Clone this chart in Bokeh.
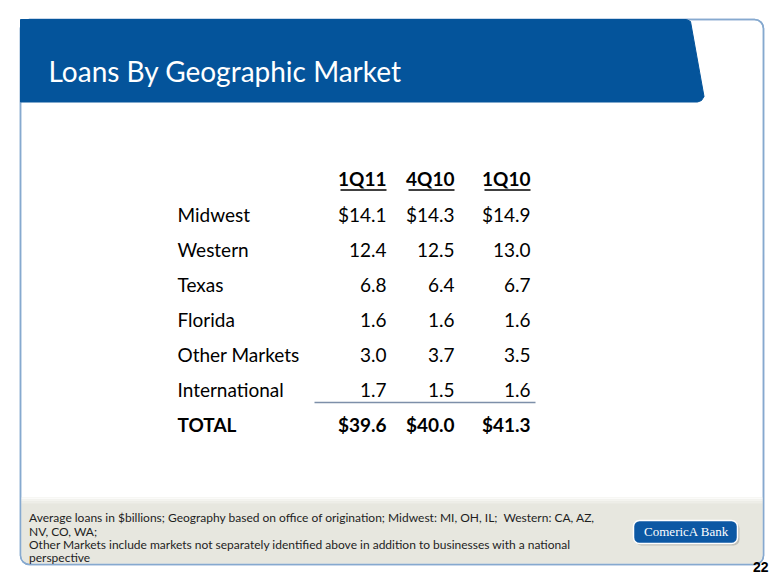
from bokeh.plotting import figure
from bokeh.models import Range1d
from bokeh.core.properties import value
from bokeh.embed import file_html
from bokeh.resources import INLINE

# ---- data ----
title = "Loans By Geographic Market"
columns = ["1Q11", "4Q10", "1Q10"]
regions = ["Midwest", "Western", "Texas", "Florida", "Other Markets", "International"]
q1_11 = [14.1, 12.4, 6.8, 1.6, 3.0, 1.7]
q4_10 = [14.3, 12.5, 6.4, 1.6, 3.7, 1.5]
q1_10 = [14.9, 13.0, 6.7, 1.6, 3.5, 1.6]
total_label = "TOTAL"
totals = [39.6, 40.0, 41.3]
footnotes = [
    "Average loans in $billions; Geography based on office of origination; Midwest: MI, OH, IL;\u00a0 Western: CA, AZ,",
    "NV, CO, WA;",
    "Other Markets include markets not separately identified above in addition to businesses with a national",
    "perspective",
]
logo_text = "ComericA Bank"
page_number = "22"

# ---- figure in pixel-like coordinates ----
W, H = 772, 577
p = figure(width=W, height=H, output_backend="svg", toolbar_location=None,
           x_range=Range1d(0, W), y_range=Range1d(H, 0),
           min_border=0, outline_line_color=None, background_fill_color="white",
           border_fill_color="white")
p.axis.visible = False
p.grid.visible = False

FONT = value("Lato")


def bl(y, size):
    # place text so that its baseline lands at y
    return y - 0.4 * size


# slide frame
p.quad(left=[20], right=[763], top=[19], bottom=[564], fill_color="white",
       line_color="#86a9cf", line_width=1.5, border_radius=9)
# footer band
p.quad(left=[20.7], right=[762.3], top=[497], bottom=[563.3], fill_color="#e7e7df",
       line_color=None, border_radius=(0, 0, 9, 9))
for i, c in enumerate(["#fbfbf9", "#f4f4ef", "#eeeee8"]):
    p.quad(left=[20.7], right=[762.3], top=[497 + 2 * i], bottom=[499 + 2 * i],
           fill_color=c, line_color=None)
p.quad(left=[20], right=[763], top=[19], bottom=[564], fill_color=None,
       line_color="#86a9cf", line_width=1.5, border_radius=9)

# title banner
p.patch(x=[20, 686, 690, 703.5, 701, 697, 20], y=[19, 19, 21, 96, 100, 101.5, 101.5],
        fill_color="#04549b", line_color="#04549b", line_width=1)
p.text(x=[48], y=[bl(82, 28)], text=[title], text_font=FONT, text_font_size="28px",
       text_color="white", text_baseline="alphabetic", text_align="left")

# table
label_x = 177
col_right = [386, 454, 530]
header_y = 186
row_y0 = 222
row_dy = 35
FS = 19

for cx, col in zip(col_right, columns):
    p.text(x=[cx], y=[bl(header_y, FS)], text=[col], text_font=FONT, text_font_size=f"{FS}px",
           text_font_style="bold", text_color="black", text_align="right",
           text_baseline="alphabetic")
    w = len(col) * 11.5
    p.segment(x0=[cx - w], y0=[header_y + 3.5], x1=[cx], y1=[header_y + 3.5],
              line_color="black", line_width=1.6)

series = [q1_11, q4_10, q1_10]
for i, reg in enumerate(regions):
    y = row_y0 + i * row_dy
    p.text(x=[label_x], y=[bl(y, FS)], text=[reg], text_font=FONT, text_font_size=f"{FS}px",
           text_color="black", text_align="left", text_baseline="alphabetic")
    for cx, s in zip(col_right, series):
        txt = ("$" if i == 0 else "") + f"{s[i]:.1f}"
        p.text(x=[cx], y=[bl(y, FS)], text=[txt], text_font=FONT, text_font_size=f"{FS}px",
               text_color="black", text_align="right", text_baseline="alphabetic")

ty = row_y0 + len(regions) * row_dy
p.segment(x0=[314], y0=[ty - 30], x1=[535], y1=[ty - 30], line_color="#7d8fa9", line_width=1.5)
p.text(x=[label_x], y=[bl(ty, FS)], text=[total_label], text_font=FONT, text_font_size=f"{FS}px",
       text_font_style="bold", text_color="black", text_align="left", text_baseline="alphabetic")
for cx, t in zip(col_right, totals):
    p.text(x=[cx], y=[bl(ty, FS)], text=[f"${t:.1f}"], text_font=FONT, text_font_size=f"{FS}px",
           text_font_style="bold", text_color="black", text_align="right",
           text_baseline="alphabetic")

# footnotes
FN = 12.0
for k, line in enumerate(footnotes):
    p.text(x=[28.5], y=[bl(522 + k * 13.3, FN)], text=[line], text_font=FONT,
           text_font_size=f"{FN}px", text_color="#1e1e1e", text_align="left",
           text_baseline="alphabetic")

# logo
p.quad(left=[635], right=[739], top=[522], bottom=[545], fill_color="#9a9a94",
       fill_alpha=0.5, line_color=None, border_radius=6)
p.quad(left=[633], right=[737], top=[520], bottom=[543], fill_color="#0c58a4",
       line_color="white", line_width=1.5, border_radius=6)
p.text(x=[686], y=[bl(536.5, 13)], text=[logo_text], text_font=value("Liberation Serif"),
       text_font_size="13px", text_color="white", text_align="center",
       text_baseline="alphabetic")

# page number
p.text(x=[768], y=[bl(572, 14)], text=[page_number], text_font=value("Liberation Sans"),
       text_font_size="14px", text_font_style="bold", text_color="black",
       text_align="right", text_baseline="alphabetic")

open("out.html", "w").write(file_html(p, INLINE))
